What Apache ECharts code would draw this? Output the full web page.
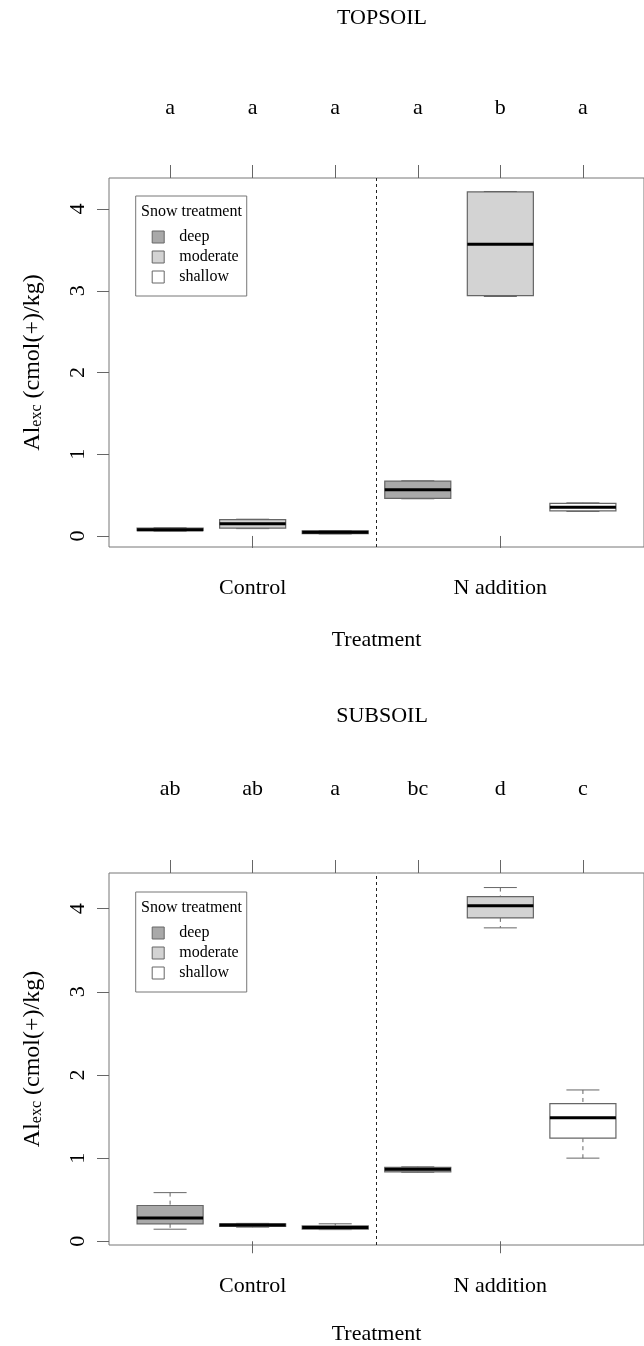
<!DOCTYPE html>
<html>
<head>
<meta charset="utf-8">
<script src="https://cdn.jsdelivr.net/npm/echarts@6.0.0/dist/echarts.min.js"></script>
<style>
  html, body { margin: 0; padding: 0; background: #fff; }
  #main { width: 644px; height: 1346px; }
</style>
</head>
<body>
<div id="main"></div>
<script>
// categories
var treatments = ["Control", "N addition"];
var snowLevels = ["deep", "moderate", "shallow"];
var topLetters = ["a", "a", "a", "a", "b", "a"];
var subLetters = ["ab", "ab", "a", "bc", "d", "c"];
var yTicks = [0, 1, 2, 3, 4];

// five-number summaries [min, Q1, median, Q3, max]: Control, N addition
var topDeep = [[0.06, 0.065, 0.075, 0.095, 0.10], [0.455, 0.46, 0.565, 0.67, 0.675]];
var topModerate = [[0.09, 0.095, 0.15, 0.20, 0.205], [2.93, 2.94, 3.57, 4.21, 4.215]];
var topShallow = [[0.025, 0.028, 0.045, 0.062, 0.065], [0.30, 0.306, 0.35, 0.40, 0.405]];
var subDeep = [[0.145, 0.21, 0.28, 0.43, 0.585], [0.83, 0.835, 0.865, 0.89, 0.895]];
var subModerate = [[0.17, 0.18, 0.195, 0.21, 0.215], [3.77, 3.89, 4.035, 4.145, 4.255]];
var subShallow = [[0.14, 0.145, 0.165, 0.185, 0.21], [1.0, 1.24, 1.485, 1.655, 1.82]];

var FONT = "'Liberation Serif', 'DejaVu Serif', serif";
var fills = { deep: "#a9a9a9", moderate: "#d3d3d3", shallow: "#ffffff" };

var panels = [
  { title: "TOPSOIL", letters: topLetters, stats: [topDeep, topModerate, topShallow],
    top: 178, height: 369, yMin: -0.135, yMax: 4.38,
    titleTop: 7, legendTop: 196, letterMargin: 59, nameGap: 82 },
  { title: "SUBSOIL", letters: subLetters, stats: [subDeep, subModerate, subShallow],
    top: 873, height: 372, yMin: -0.045, yMax: 4.43,
    titleTop: 705, legendTop: 892, letterMargin: 73, nameGap: 78 }
];

// box positions along x: 1..6, treatments centred on the middle snow level
var positions = [];
treatments.forEach(function (t, ti) {
  snowLevels.forEach(function (s, si) { positions.push(ti * snowLevels.length + si + 1); });
});
var treatmentPos = treatments.map(function (t, ti) { return ti * snowLevels.length + 2; });
var splitPos = snowLevels.length + 0.5;

function renderBox(params, api) {
  var pos = api.value(0);
  var p0 = api.coord([pos, api.value(1)]);
  var cx = p0[0], yLo = p0[1];
  var yQ1 = api.coord([pos, api.value(2)])[1];
  var yMed = api.coord([pos, api.value(3)])[1];
  var yQ3 = api.coord([pos, api.value(4)])[1];
  var yHi = api.coord([pos, api.value(5)])[1];
  var w = api.size([0.8, 0])[0];
  var edge = { stroke: "#666", lineWidth: 1 };
  return {
    type: "group",
    children: [
      { type: "line", shape: { x1: cx, y1: yHi, x2: cx, y2: yQ3 }, style: Object.assign({ lineDash: [4, 4] }, edge) },
      { type: "line", shape: { x1: cx, y1: yQ1, x2: cx, y2: yLo }, style: Object.assign({ lineDash: [4, 4] }, edge) },
      { type: "line", shape: { x1: cx - w / 4, y1: yHi, x2: cx + w / 4, y2: yHi }, style: edge },
      { type: "line", shape: { x1: cx - w / 4, y1: yLo, x2: cx + w / 4, y2: yLo }, style: edge },
      { type: "rect", shape: { x: cx - w / 2, y: yQ3, width: w, height: yQ1 - yQ3 },
        style: { fill: api.visual("color"), stroke: "#666", lineWidth: 1.2 } },
      { type: "line", shape: { x1: cx - w / 2, y1: yMed, x2: cx + w / 2, y2: yMed },
        style: { stroke: "#000", lineWidth: 3 } }
    ]
  };
}

var grid = [], xAxis = [], yAxis = [], series = [], title = [], legend = [];

panels.forEach(function (p, i) {
  grid.push({
    left: 109, top: p.top, width: 545.6, height: p.height,
    show: true, borderColor: "#777", borderWidth: 1
  });

  // bottom axis: treatments
  xAxis.push({
    gridIndex: i, type: "value", position: "bottom", min: 0.26, max: 6.74,
    splitLine: { show: false },
    axisLine: { show: false },
    axisTick: { show: true, length: 12, customValues: treatmentPos, lineStyle: { color: "#666" } },
    axisLabel: {
      customValues: treatmentPos, margin: 30, color: "#000", fontFamily: FONT, fontSize: 22,
      formatter: function (v) { return treatments[treatmentPos.indexOf(v)]; }
    },
    name: "Treatment", nameLocation: "middle", nameGap: p.nameGap,
    nameTextStyle: { color: "#000", fontFamily: FONT, fontSize: 22 }
  });
  // top axis: ticks per box with significance letters
  xAxis.push({
    gridIndex: i, type: "value", position: "top", min: 0.26, max: 6.74,
    splitLine: { show: false },
    axisLine: { show: false },
    axisTick: { show: true, length: 13, customValues: positions, lineStyle: { color: "#666" } },
    axisLabel: {
      customValues: positions, margin: p.letterMargin, color: "#000", fontFamily: FONT, fontSize: 22,
      formatter: function (v) { return p.letters[positions.indexOf(v)]; }
    }
  });

  yAxis.push({
    gridIndex: i, type: "value", min: p.yMin, max: p.yMax,
    splitLine: { show: false },
    axisLine: { show: false },
    axisTick: { show: true, length: 12, customValues: yTicks, lineStyle: { color: "#666" } },
    axisLabel: { customValues: yTicks, rotate: 90, margin: 20, color: "#000", fontFamily: FONT, fontSize: 22 },
    name: "{al|Al}{sub|exc}{al| (cmol(+)/kg)}",
    nameLocation: "middle", nameGap: 64,
    nameTextStyle: {
      color: "#000", fontFamily: FONT,
      rich: {
        al: { fontFamily: FONT, fontSize: 24, color: "#000" },
        sub: { fontFamily: FONT, fontSize: 16, color: "#000", verticalAlign: "bottom", padding: [9, 0, 0, 0] }
      }
    }
  });

  snowLevels.forEach(function (s, si) {
    series.push({
      name: s, type: "custom", xAxisIndex: i * 2, yAxisIndex: i,
      itemStyle: { color: fills[s] },
      encode: { x: 0, y: [1, 2, 3, 4, 5] },
      renderItem: renderBox,
      data: treatments.map(function (t, ti) {
        return [positions[ti * snowLevels.length + si]].concat(p.stats[si][ti]);
      })
    });
  });

  // dashed separator between the treatment groups
  series.push({
    name: "split", type: "line", xAxisIndex: i * 2, yAxisIndex: i,
    symbol: "none", silent: true,
    lineStyle: { color: "#222", width: 1, type: [3, 3] },
    data: [[splitPos, p.yMin], [splitPos, p.yMax]]
  });

  title.push({
    text: p.title, left: 382, top: p.titleTop, textAlign: "center", padding: 0,
    textStyle: { color: "#000", fontFamily: FONT, fontSize: 22, fontWeight: "normal" }
  });
  title.push({
    text: "Snow treatment", left: 141, top: p.legendTop + 8, padding: 0,
    textStyle: { color: "#000", fontFamily: FONT, fontSize: 16, fontWeight: "normal" }
  });

  legend.push({
    left: 135.7, top: p.legendTop, orient: "vertical", align: "left",
    icon: "rect", itemWidth: 12, itemHeight: 12, itemGap: 4,
    padding: [33, 8, 11, 16],
    borderColor: "#777", borderWidth: 1, selectedMode: false,
    textStyle: { color: "#000", fontFamily: FONT, fontSize: 16, padding: [0, 0, 0, 10] },
    data: snowLevels.map(function (s) {
      return { name: s, itemStyle: { color: fills[s], borderColor: "#666", borderWidth: 1 } };
    })
  });
});

var chart = echarts.init(document.getElementById("main"));
chart.setOption({
  backgroundColor: "#fff",
  animation: false,
  title: title,
  legend: legend,
  grid: grid,
  xAxis: xAxis,
  yAxis: yAxis,
  series: series
});
</script>
</body>
</html>
